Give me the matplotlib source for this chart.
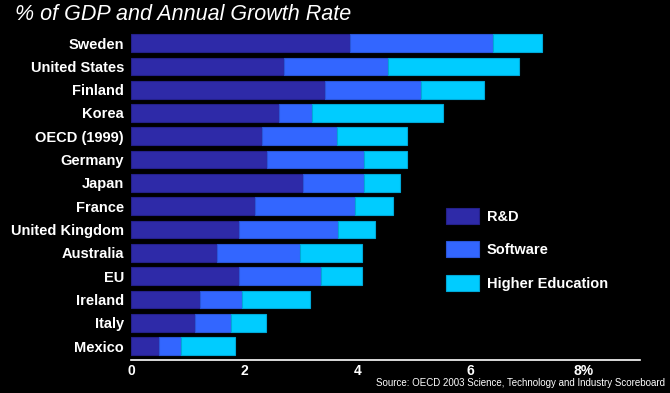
import numpy as np
import matplotlib.pyplot as plt

plt.rcParams['font.family'] = ['Liberation Sans', 'DejaVu Sans']

countries = ['Sweden', 'United States', 'Finland', 'Korea', 'OECD (1999)', 'Germany',
             'Japan', 'France', 'United Kingdom', 'Australia', 'EU', 'Ireland',
             'Italy', 'Mexico']
rnd = [3.88, 2.71, 3.44, 2.61, 2.31, 2.41, 3.04, 2.19, 1.91, 1.53, 1.91, 1.22, 1.14, 0.50]
software = [2.52, 1.84, 1.69, 0.59, 1.33, 1.71, 1.08, 1.77, 1.75, 1.46, 1.45, 0.75, 0.63, 0.38]
higher_ed = [0.87, 2.32, 1.11, 2.32, 1.25, 0.77, 0.63, 0.67, 0.65, 1.10, 0.73, 1.19, 0.61, 0.96]
series_names = ['R&D', 'Software', 'Higher Education']
xticks = [0, 2, 4, 6, 8]
xtick_labels = ['0', '2', '4', '6', '8%']

colors = ['#2E2AA8', '#3366FF', '#00CCFF']
edges = ['#24208A', '#2A55D8', '#00A8D8']

fig = plt.figure(figsize=(6.7, 3.93), dpi=100, facecolor='black')
ax = fig.add_axes([0.1955, 0.084, 0.7595, 0.842], facecolor='black')

y = np.arange(len(countries))
left = np.zeros(len(countries))
handles = []
for vals, c, ec, name in zip([rnd, software, higher_ed], colors, edges, series_names):
    h = ax.barh(y, vals, left=left, height=0.76, color=c, edgecolor=ec,
                linewidth=0.8, label=name)
    handles.append(h)
    left = left + np.array(vals)

ax.set_ylim(len(countries) - 0.4, -0.6)
ax.set_xlim(0, 9)
ax.set_yticks(y)
ax.set_yticklabels(countries, color='white', fontsize=10.5, fontweight='bold')
ax.set_xticks(xticks)
ax.set_xticklabels(xtick_labels, color='white', fontsize=10, fontweight='bold',
                   family=['Liberation Sans Narrow', 'Liberation Sans'])
ax.tick_params(axis='both', length=0)
ax.tick_params(axis='y', pad=5)
ax.tick_params(axis='x', pad=3)
for s in ['top', 'right', 'left']:
    ax.spines[s].set_visible(False)
ax.spines['bottom'].set_color('white')
ax.spines['bottom'].set_linewidth(1.2)

leg = ax.legend(handles=handles, loc='upper left', bbox_to_anchor=(0.593, 0.499),
                frameon=False, fontsize=10.5, labelspacing=1.2, handlelength=2.3,
                handleheight=1.3, handletextpad=0.5)
for t in leg.get_texts():
    t.set_color('white')
    t.set_fontweight('bold')

fig.text(0.022, 0.963, '% of GDP and Annual Growth Rate', color='white', fontsize=15.5,
         fontstyle='italic', ha='left', va='center')
fig.text(0.993, 0.025, 'Source: OECD 2003 Science, Technology and Industry Scoreboard',
         color='white', fontsize=7, ha='right', va='center')

fig.savefig('out.png', dpi=100, facecolor='black')
